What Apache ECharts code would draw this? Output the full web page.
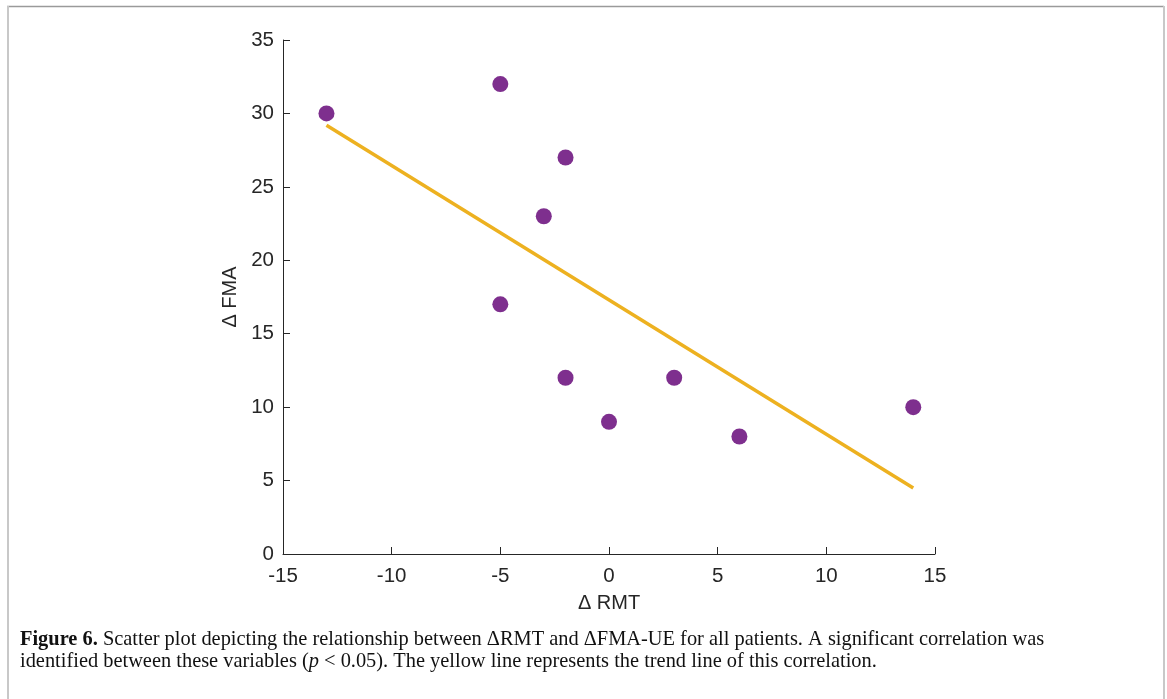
<!DOCTYPE html>
<html>
<head>
<meta charset="utf-8">
<style>
  html, body { margin: 0; padding: 0; background: #fff; }
  #chart { width: 1167px; height: 699px; }
</style>
<script src="https://cdn.jsdelivr.net/npm/echarts@6/dist/echarts.min.js"></script>
</head>
<body>
<div id="chart"></div>
<script>
// Change in resting motor threshold vs change in Fugl-Meyer score, per patient
const rmtChange = [-13, -5, -2, -3, -5, -2, 0, 3, 6, 14];
const fmaChange = [30, 32, 27, 23, 17, 12, 9, 12, 8, 10];

// Trend line end points
const trendRmt = [-13, 14];
const trendFma = [29.2, 4.5];

// Axis ranges
const xRange = [-15, 15];
const yRange = [0, 35];
const tickStep = 5;

const captionLine1 = '{b|Figure 6.} Scatter plot depicting the relationship between \u0394RMT and \u0394FMA-UE for all patients. A significant correlation was';
const captionLine2 = 'identified between these variables ({i|p} < 0.05). The yellow line represents the trend line of this correlation.';

const sansFont = "'Liberation Sans', Arial, Helvetica, sans-serif";
const serifFont = "'Liberation Serif', 'Times New Roman', serif";
const axisColor = '#262626';
const captionSize = 20.4;

const points = rmtChange.map((x, i) => [x, fmaChange[i]]);
const trend = trendRmt.map((x, i) => [x, trendFma[i]]);

const chart = echarts.init(document.getElementById('chart'), null, { renderer: 'canvas' });

function axisStyle(name, nameGap, rotate, labelMargin) {
  return {
    name: name,
    nameLocation: 'middle',
    nameGap: nameGap,
    nameRotate: rotate,
    nameTextStyle: { fontFamily: sansFont, fontSize: 20, color: axisColor },
    axisLine: { show: true, onZero: false, lineStyle: { color: axisColor, width: 1 } },
    axisTick: { show: true, inside: true, length: 7, lineStyle: { color: axisColor, width: 1 } },
    axisLabel: { fontFamily: sansFont, fontSize: 20.5, color: axisColor, margin: labelMargin },
    splitLine: { show: false }
  };
}

chart.setOption({
  animation: false,
  backgroundColor: '#fff',
  grid: { left: 283, right: 232, top: 40, bottom: 145, containLabel: false },
  xAxis: Object.assign(axisStyle('\u0394 RMT', 39, 0, 12), {
    type: 'value', min: xRange[0], max: xRange[1], interval: tickStep
  }),
  yAxis: Object.assign(axisStyle('\u0394 FMA', 34, 90, 9), {
    type: 'value', min: yRange[0], max: yRange[1], interval: tickStep
  }),
  series: [
    {
      type: 'line',
      data: trend,
      symbol: 'none',
      lineStyle: { color: '#EDB120', width: 3.5 },
      z: 2
    },
    {
      type: 'scatter',
      data: points,
      symbol: 'circle',
      symbolSize: 16,
      itemStyle: { color: '#7E2F8E', opacity: 1 },
      z: 3
    }
  ],
  graphic: [
    // figure frame
    { type: 'line', shape: { x1: 7, y1: 6.5, x2: 1164, y2: 6.5 }, style: { stroke: '#9a9a9a', lineWidth: 1.5 } },
    { type: 'line', shape: { x1: 8, y1: 6, x2: 8, y2: 699 }, style: { stroke: '#c8c8c8', lineWidth: 2 } },
    { type: 'line', shape: { x1: 1164, y1: 6, x2: 1164, y2: 699 }, style: { stroke: '#c8c8c8', lineWidth: 2 } },
    // caption
    {
      type: 'text', left: 20, top: 630,
      style: {
        text: captionLine1,
        font: captionSize + 'px ' + serifFont,
        fill: '#111',
        rich: { b: { fontWeight: 'bold', fontFamily: serifFont, fontSize: captionSize, fill: '#111' } }
      }
    },
    {
      type: 'text', left: 20, top: 652,
      style: {
        text: captionLine2,
        font: captionSize + 'px ' + serifFont,
        fill: '#111',
        rich: { i: { fontStyle: 'italic', fontFamily: serifFont, fontSize: captionSize, fill: '#111' } }
      }
    }
  ]
});
</script>
</body>
</html>
